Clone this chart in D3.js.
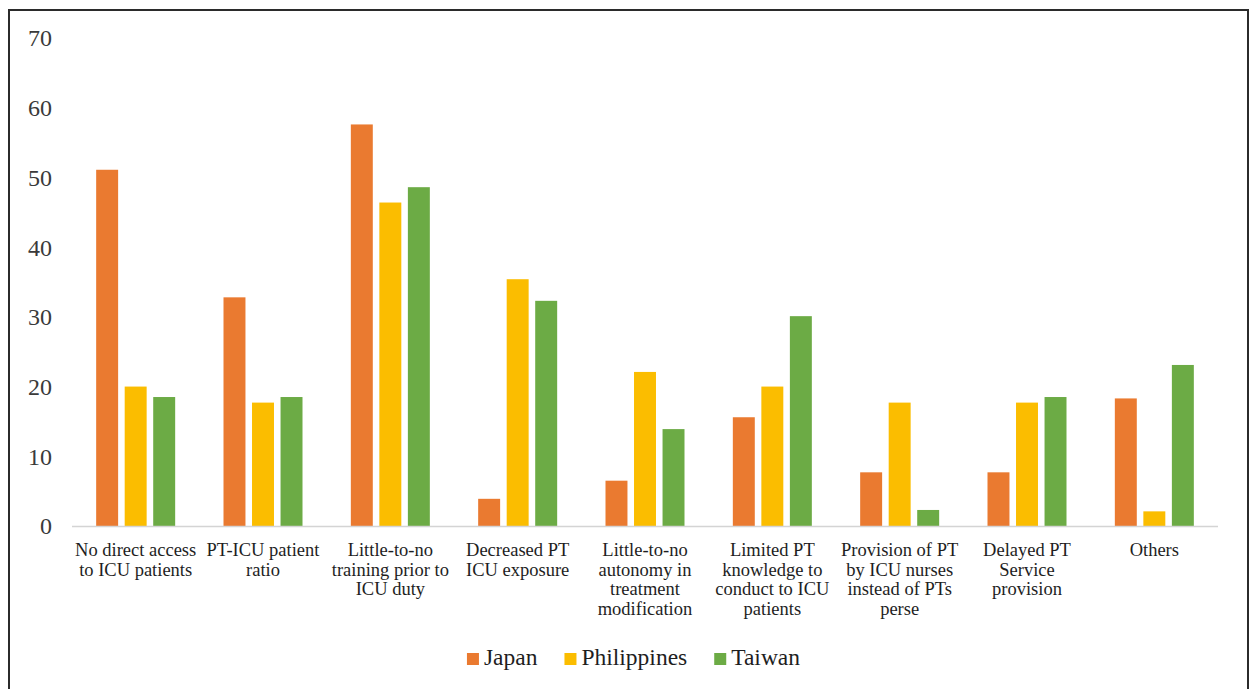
<!DOCTYPE html>
<html>
<head>
<meta charset="utf-8">
<script src="https://cdn.jsdelivr.net/npm/d3@7"></script>
<style>
  html, body { margin: 0; padding: 0; background: #fff; }
  svg { display: block; }
  text { font-family: "Liberation Serif", "Times New Roman", serif; }
</style>
</head>
<body>
<svg id="chart"></svg>
<script>
// Category labels, already split into lines as in the figure
const categories = [
    ["No direct access", "to ICU patients"],
    ["PT-ICU patient", "ratio"],
    ["Little-to-no", "training prior to", "ICU duty"],
    ["Decreased PT", "ICU exposure"],
    ["Little-to-no", "autonomy in", "treatment", "modification"],
    ["Limited PT", "knowledge to", "conduct to ICU", "patients"],
    ["Provision of PT", "by ICU nurses", "instead of PTs", "perse"],
    ["Delayed PT", "Service", "provision"],
    ["Others"]
];

const seriesNames = ["Japan", "Philippines", "Taiwan"];
const seriesColors = ["#ea7a30", "#fbbd00", "#6cab45"];

const japan = [51.1, 32.8, 57.6, 3.9, 6.5, 15.6, 7.7, 7.7, 18.3];
const philippines = [20.0, 17.7, 46.4, 35.4, 22.1, 20.0, 17.7, 17.7, 2.1];
const taiwan = [18.5, 18.5, 48.6, 32.3, 13.9, 30.1, 2.3, 18.5, 23.1];

const yTicks = [0, 10, 20, 30, 40, 50, 60, 70];

const seriesValues = [japan, philippines, taiwan];

const W = 1253, H = 689;
const svg = d3.select("#chart").attr("width", W).attr("height", H);

// outer frame (bottom edge runs off the picture)
svg.append("rect")
    .attr("x", 9).attr("y", 10)
    .attr("width", 1239).attr("height", 720)
    .attr("fill", "none")
    .attr("stroke", "#2b2b2b")
    .attr("stroke-width", 2);

const plotLeft = 72, plotRight = 1218;

const x0 = d3.scaleBand()
    .domain(d3.range(categories.length))
    .range([plotLeft, plotRight])
    .padding(0);

const groupW = 79;
const x1 = d3.scaleBand()
    .domain(seriesNames)
    .range([(x0.bandwidth() - groupW) / 2, (x0.bandwidth() + groupW) / 2])
    .paddingInner(0.23)
    .paddingOuter(0);

const y = d3.scaleLinear().domain([0, 70]).range([526, 38]);

// y tick labels (no axis line, no gridlines)
svg.append("g").selectAll("text")
    .data(yTicks)
    .enter()
    .append("text")
    .attr("x", 52)
    .attr("y", d => y(d))
    .attr("dy", "0.35em")
    .attr("text-anchor", "end")
    .attr("font-size", 24)
    .attr("fill", "#3a3a3a")
    .text(d => d);

// bars
const groups = svg.append("g").selectAll("g")
    .data(categories.map((c, i) => i))
    .enter()
    .append("g")
    .attr("transform", i => `translate(${x0(i)},0)`);

groups.selectAll("rect")
    .data(i => seriesNames.map((s, k) => ({ s, k, v: seriesValues[k][i] })))
    .enter()
    .append("rect")
    .attr("x", d => x1(d.s))
    .attr("y", d => y(d.v))
    .attr("width", x1.bandwidth())
    .attr("height", d => y(0) - y(d.v))
    .attr("fill", d => seriesColors[d.k]);

// baseline
svg.append("line")
    .attr("x1", plotLeft).attr("x2", plotRight)
    .attr("y1", y(0) + 0.5).attr("y2", y(0) + 0.5)
    .attr("stroke", "#d4d4d4")
    .attr("stroke-width", 1.5);

// category labels
const labels = svg.append("g").selectAll("text")
    .data(categories)
    .enter()
    .append("text")
    .attr("text-anchor", "middle")
    .attr("font-size", 18.5)
    .attr("fill", "#1e1e1e");

labels.selectAll("tspan")
    .data((d, i) => d.map(line => ({ line, i })))
    .enter()
    .append("tspan")
    .attr("x", d => x0(d.i) + x0.bandwidth() / 2)
    .attr("y", (d, j) => 556 + j * 19.7)
    .text(d => d.line);

// legend
const legend = svg.append("g");
let lx = 0;
const items = [];
seriesNames.forEach((name, k) => {
    const g = legend.append("g");
    g.append("rect")
        .attr("x", lx).attr("y", 653)
        .attr("width", 12).attr("height", 12)
        .attr("fill", seriesColors[k]);
    const t = g.append("text")
        .attr("x", lx + 17).attr("y", 665)
        .attr("font-size", 23.5)
        .attr("fill", "#1e1e1e")
        .text(name);
    lx += 17 + t.node().getComputedTextLength() + 27;
});
const legendW = lx - 27;
legend.attr("transform", `translate(${633.5 - legendW / 2},0)`);
</script>
</body>
</html>
